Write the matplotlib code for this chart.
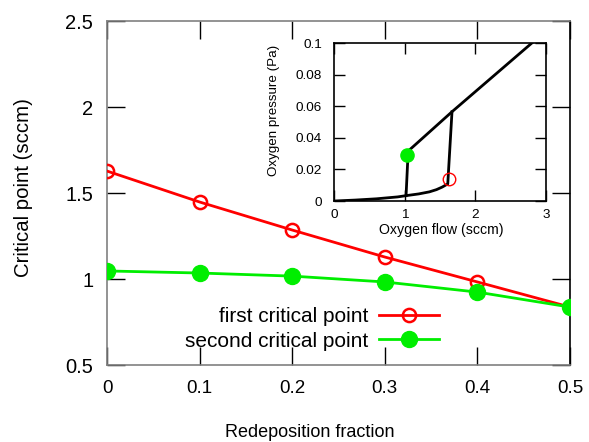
"""Critical point vs redeposition fraction, with a hysteresis inset."""

import matplotlib
matplotlib.use("Agg")
import matplotlib.pyplot as plt

plt.rcParams["font.family"] = ["Liberation Sans", "DejaVu Sans"]

# main plot data
redeposition = [0.0, 0.1, 0.2, 0.3, 0.4, 0.5]
first_critical = [1.628, 1.448, 1.285, 1.128, 0.983, 0.837]
second_critical = [1.047, 1.035, 1.017, 0.983, 0.924, 0.837]

# inset hysteresis curve
lower_flow = [0.0, 0.3, 0.6, 0.9, 1.02, 1.2, 1.35, 1.45, 1.53, 1.61, 1.67]
lower_pressure = [0.0, 0.0006, 0.0014, 0.0026, 0.0034, 0.0045, 0.0058, 0.0072, 0.0088, 0.0108, 0.0565]
upper_flow = [1.02, 1.05, 1.67, 2.80]
upper_pressure = [0.0034, 0.0316, 0.0565, 0.100]
inset_open = (1.63, 0.014)
inset_filled = (1.03, 0.029)

GRAY = "#808080"

fig = plt.figure(figsize=(5.89, 4.42), dpi=100)
ax = fig.add_axes([0.1817, 0.1742, 0.786, 0.778])

ax.plot(redeposition, first_critical, color="#ff0000", lw=2, marker="o", ms=9.5,
        mfc="none", mec="#ff0000", mew=1.8, label="first critical point", zorder=3)
ax.plot(redeposition, second_critical, color="#00ee00", lw=2, marker="o", ms=11.5,
        mfc="#00ee00", mec="#00ee00", label="second critical point", zorder=4)

ax.set_xlim(0, 0.5)
ax.set_ylim(0.5, 2.5)
ax.set_xticks(redeposition)
ax.set_xticklabels(["0", "0.1", "0.2", "0.3", "0.4", "0.5"])
ax.set_yticks([0.5, 1.0, 1.5, 2.0, 2.5])
ax.set_yticklabels(["0.5", "1", "1.5", "2", "2.5"])
ax.tick_params(direction="in", length=13, width=1, top=True, right=True)
ax.tick_params(axis="x", pad=11, labelsize=13.5)
ax.tick_params(axis="y", pad=10, labelsize=14.5)
for side in ("left", "top", "bottom"):
    ax.spines[side].set_color(GRAY)
ax.spines["right"].set_color("black")
for s in ax.spines.values():
    s.set_linewidth(1.2)

ax.set_xlabel("Redeposition fraction", fontsize=13)
ax.set_ylabel("Critical point (sccm)", fontsize=14.7)
ax.xaxis.set_label_coords(0.438, -0.1715)
ax.yaxis.set_label_coords(-0.160, 0.517)

ax.legend(loc="center right", bbox_to_anchor=(439 / 589, 1 - 329 / 442),
          bbox_transform=fig.transFigure, frameon=False, markerfirst=False,
          fontsize=15, handlelength=2.9, handletextpad=0.5, labelspacing=0.25,
          borderpad=0, borderaxespad=0)

# inset
ins = fig.add_axes([0.567, 0.5452, 0.36, 0.3575])
ins.plot(lower_flow, lower_pressure, color="black", lw=2)
ins.plot(upper_flow, upper_pressure, color="black", lw=2)
ins.plot(*inset_filled, marker="o", ms=9.5, color="#00ee00", zorder=4)
ins.plot(*inset_open, marker="o", ms=9, mfc="none", mec="#ff0000", mew=1, zorder=4)
ins.set_xlim(0, 3)
ins.set_ylim(0, 0.1)
ins.set_xticks([0, 1, 2, 3])
ins.set_yticks([0, 0.02, 0.04, 0.06, 0.08, 0.1])
ins.set_yticklabels(["0", "0.02", "0.04", "0.06", "0.08", "0.1"])
ins.tick_params(direction="in", length=8, width=1, top=True, right=True, labelsize=9.7)
ins.tick_params(axis="x", pad=6)
ins.tick_params(axis="y", pad=8.5)
for s in ins.spines.values():
    s.set_linewidth(1.2)
ins.set_xlabel("Oxygen flow (sccm)", fontsize=10.2)
ins.set_ylabel("Oxygen pressure (Pa)", fontsize=9.6,
               family=["Liberation Sans Narrow", "Liberation Sans"])
ins.xaxis.set_label_coords(0.505, -0.139)
ins.yaxis.set_label_coords(-0.255, 0.576)

fig.savefig("out.png", dpi=100)
